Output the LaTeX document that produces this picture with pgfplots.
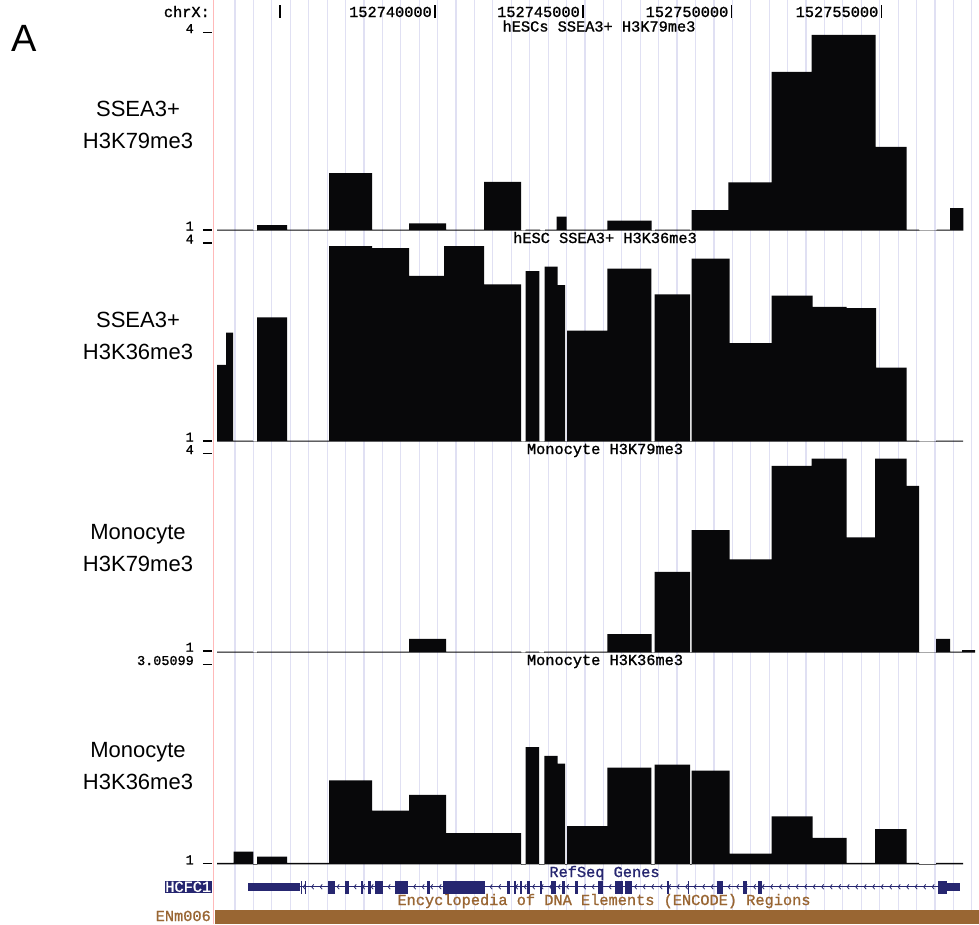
\documentclass[border=0pt]{standalone}
\usepackage{pgfplots}
\pgfplotsset{compat=1.18}
\usepackage{pgfplotstable}
\usepackage{fontspec}
\setmainfont{Liberation Sans}
\newfontfamily\mono[FakeBold=1.2]{Liberation Mono}
\usetikzlibrary{decorations.markings}
\definecolor{gridc}{RGB}{224,224,243}
\definecolor{pinkc}{RGB}{255,185,185}
\definecolor{genec}{RGB}{38,38,112}
\definecolor{encc}{RGB}{153,102,51}
\definecolor{barc}{RGB}{8,8,10}

% x = position on the browser ruler (pixel units of the screenshot), v = signal value
\pgfplotstableread{
x v
217 1.015
253 0
257 1.08
287 1.015
329 1.87
372 1.015
409 1.11
446 1.015
484 1.74
521 0
525.7 1.015
540 0
545 1.015
556.7 1.21
566.7 1.015
607.3 1.15
651.7 0
655 1.015
690 0
691.7 1.31
728.3 1.73
771.7 3.41
811.7 3.97
875.7 2.27
906.7 1.015
919 0
936.7 1.015
950 1.34
963.3 0
}\tA

\pgfplotstableread{
x v
217 2.16
226 2.65
233 1.015
253 0
257 2.88
287 1.015
329 3.96
372 3.93
409 3.51
444 3.96
484 3.38
521 0
525.7 3.58
539.3 0
544.5 3.65
557.7 3.37
565 0
567 2.68
607.3 3.62
651.3 0
654.7 3.23
690 0
691.7 3.77
729.7 2.49
771.7 3.21
812.7 3.04
846.7 3.02
876 2.12
906.7 1.015
919 0
936 1.015
963 0
}\tB

\pgfplotstableread{
x v
217 1.015
253 0
257 1.015
409 1.21
446 1.015
521 0
525.7 1.015
539 0
544 1.015
607.3 1.28
651.7 0
654.7 2.22
690 0
691.7 2.85
729.7 2.41
771.7 3.82
811.7 3.93
846.7 2.74
875 3.93
906.7 3.52
919 0
936 1.21
950 1.015
962 1.04
975 0
}\tC

\pgfplotstableread{
x v
217 1.015
233.7 1.13
253.3 0
257 1.08
287 1.015
329 1.86
372 1.55
409 1.71
446 1.32
521 0
525.7 2.20
539 0
544.3 2.11
557.7 2.03
565 0
567 1.39
607.3 1.99
651.3 0
654.7 2.02
690 0
691.7 1.96
729.7 1.11
771.7 1.49
812.7 1.27
846.7 1.015
875 1.36
906.7 1.015
919 0
936 1.015
963 0
}\tD

\newcommand{\uc}{\mono\fontsize{15.3}{15.3}\selectfont}
\newcommand{\ucs}{\mono\fontsize{13.5}{13.5}\selectfont}
\newcommand{\tl}[1]{#1\hspace{9pt}\rule{9pt}{1.3pt}}

\pgfplotsset{track/.style={
  anchor=south west, scale only axis, width=765pt,
  xmin=214, xmax=979, axis line style={draw=none}, xtick=\empty,
  major tick length=0pt,
  yticklabel style={anchor=base east, inner sep=0pt, xshift=-2pt, font=\ucs},
  clip=true,
}}

\begin{document}
\begin{tikzpicture}
\path[use as bounding box] (0pt,0pt) rectangle (979pt,-924pt);
\begin{scope}[x=1pt,y=-1pt]
  % grid lines
  \foreach \k in {0,...,40} {
    \draw[gridc, line width=1.2pt] ({235+18.42*\k},0) -- ({235+18.42*\k},910);
  }
  \draw[pinkc, line width=1.4pt] (213.5,0) -- (213.5,924);
  % panel letter
  \node[anchor=base west, inner sep=0pt, font=\fontsize{38}{38}\selectfont] at (11,51) {A};
  % left labels
  \begin{scope}[every node/.style={anchor=base, inner sep=0pt, font=\fontsize{22}{22}\selectfont}]
    \node at (138,116) {SSEA3+};
    \node at (138,148) {H3K79me3};
    \node at (138,327) {SSEA3+};
    \node at (138,359) {H3K36me3};
    \node at (138,539) {Monocyte};
    \node at (138,571) {H3K79me3};
    \node at (138,757) {Monocyte};
    \node at (138,789) {H3K36me3};
  \end{scope}
  % ruler
  \begin{scope}[every node/.style={anchor=base east, inner sep=0pt, font=\uc}]
    \node at (210,17) {chrX:};
    \node at (432,17) {152740000};
    \node at (580,17) {152745000};
    \node at (728.5,17) {152750000};
    \node at (878.5,17) {152755000};
  \end{scope}
  \foreach \p in {280,435,583,731.7,881.7} {
    \draw[black, line width=1.5pt] (\p,5) -- (\p,18);
  }
  % track titles
  \begin{scope}[every node/.style={anchor=base, inner sep=0pt, font=\uc}]
    \node at (599,31.5) {hESCs SSEA3+ H3K79me3};
    \node at (605,243) {hESC SSEA3+ H3K36me3};
    \node at (605,454) {Monocyte H3K79me3};
    \node at (605,665) {Monocyte H3K36me3};
    \node[text=genec] at (604.5,877) {RefSeq Genes};
    \node[text=encc] at (604,905) {Encyclopedia of DNA Elements (ENCODE) Regions};
    \node[text=encc, anchor=base east] at (211,921) {ENm006};
  \end{scope}
  \node[fill=genec, text=white, font=\uc, inner sep=0.6pt, anchor=east] at (212,886.8) {HCFC1};
\end{scope}

\begin{axis}[track, at={(214pt,-230.5pt)}, height=197.5pt, ymin=1, ymax=4,
  ytick={1,4}, yticklabels={\tl{1},\tl{4}}]
\addplot[ybar interval, fill=barc, draw=none] table[x=x,y=v]{\tA};
\end{axis}

\begin{axis}[track, at={(214pt,-441.5pt)}, height=198pt, ymin=1, ymax=4,
  ytick={1,4}, yticklabels={\tl{1},\tl{4}}]
\addplot[ybar interval, fill=barc, draw=none] table[x=x,y=v]{\tB};
\end{axis}

\begin{axis}[track, at={(214pt,-652.7pt)}, height=198.7pt, ymin=1, ymax=4,
  ytick={1,4}, yticklabels={\raisebox{1pt}{\tl{1}},\tl{4}}]
\addplot[ybar interval, fill=barc, draw=none] table[x=x,y=v]{\tC};
\end{axis}

\begin{axis}[track, at={(214pt,-864.3pt)}, height=200.3pt, ymin=1, ymax=3.05099,
  ytick={1,3.05099}, yticklabels={\tl{1},\raisebox{-1pt}{\tl{3.05099}}}]
\addplot[ybar interval, fill=barc, draw=none] table[x=x,y=v]{\tD};
\end{axis}

% gene and ENCODE region tracks
\begin{axis}[at={(214pt,-924pt)}, anchor=south west, scale only axis, width=765pt, height=54pt,
  xmin=214, xmax=979, ymin=870, ymax=924, y dir=reverse,
  axis line style={draw=none}, ticks=none, clip=false]
\addplot[genec, line width=1.2pt, mark=none,
  postaction={decorate, decoration={markings,
    mark=between positions 0.005 and 0.995 step 8.5pt with {\draw[genec, line width=0.8pt] (2pt,2.4pt) -- (0pt,0pt) -- (2pt,-2.4pt);}}}]
  coordinates {(300,886.8) (938,886.8)};
\addplot[genec, line width=8pt, mark=none, unbounded coords=jump]
  coordinates {(248.3,886.8) (300,886.8) (nan,nan) (946.7,886.8) (960,886.8)};
\addplot[genec, line width=13pt, mark=none, unbounded coords=jump]
  coordinates {
  (301.2,887.3) (302.4,887.3) (nan,nan)
  (304.5,887.3) (305.7,887.3) (nan,nan)
  (328,887.3) (335,887.3) (nan,nan)
  (345,887.3) (349,887.3) (nan,nan)
  (361,887.3) (363,887.3) (nan,nan)
  (368,887.3) (371,887.3) (nan,nan)
  (375,887.3) (383,887.3) (nan,nan)
  (395,887.3) (408,887.3) (nan,nan)
  (427,887.3) (430,887.3) (nan,nan)
  (443,887.3) (485,887.3) (nan,nan)
  (507,887.3) (510,887.3) (nan,nan)
  (514,887.3) (516,887.3) (nan,nan)
  (520,887.3) (522,887.3) (nan,nan)
  (527,887.3) (530,887.3) (nan,nan)
  (540,887.3) (542,887.3) (nan,nan)
  (551,887.3) (556,887.3) (nan,nan)
  (562,887.3) (565,887.3) (nan,nan)
  (575,887.3) (578,887.3) (nan,nan)
  (598,887.3) (603,887.3) (nan,nan)
  (615,887.3) (623.3,887.3) (nan,nan)
  (625,887.3) (631.7,887.3) (nan,nan)
  (666.7,887.3) (669,887.3) (nan,nan)
  (687.5,887.3) (689.3,887.3) (nan,nan)
  (716.7,887.3) (723.3,887.3) (nan,nan)
  (743.3,887.3) (746.7,887.3) (nan,nan)
  (758.3,887.3) (761.7,887.3) (nan,nan)
  (938.3,887.3) (946.7,887.3)
  };
\addplot[encc, line width=14pt, mark=none] coordinates {(215,917) (979,917)};
\end{axis}
\end{tikzpicture}
\end{document}
